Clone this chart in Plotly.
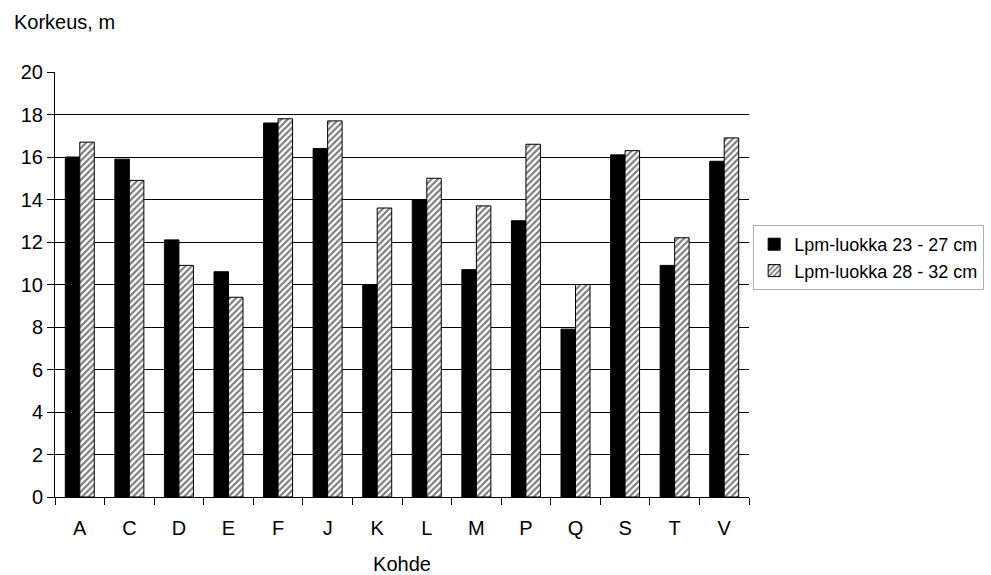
import plotly.graph_objects as go

# Tree height by site, two diameter classes
kohteet = ["A", "C", "D", "E", "F", "J", "K", "L", "M", "P", "Q", "S", "T", "V"]
luokka_23_27 = [16.0, 15.9, 12.1, 10.6, 17.6, 16.4, 10.0, 14.0, 10.7, 13.0, 7.9, 16.1, 10.9, 15.8]
luokka_28_32 = [16.7, 14.9, 10.9, 9.4, 17.8, 17.7, 13.6, 15.0, 13.7, 16.6, 10.0, 16.3, 12.2, 16.9]
sarjat = ["Lpm-luokka 23 - 27 cm", "Lpm-luokka 28 - 32 cm"]
y_ticks = list(range(0, 21, 2))

FONT = "Liberation Sans, Arial, sans-serif"

fig = go.Figure()
fig.add_trace(go.Bar(
    x=kohteet, y=luokka_23_27, name=sarjat[0],
    marker=dict(color="black", line=dict(color="black", width=1)),
))
fig.add_trace(go.Bar(
    x=kohteet, y=luokka_28_32, name=sarjat[1],
    marker=dict(
        color="white",
        line=dict(color="black", width=1),
        pattern=dict(shape="/", fgcolor="black", bgcolor="white", size=4.5, solidity=0.5),
    ),
))

fig.update_layout(
    width=991, height=575,
    margin=dict(l=55, r=242, t=72, b=78, autoexpand=False),
    paper_bgcolor="white", plot_bgcolor="white",
    font=dict(family=FONT, size=20, color="black"),
    barmode="group", bargap=0.415, bargroupgap=0,
    showlegend=True,
    legend=dict(
        x=1.006, y=0.64, xanchor="left", yanchor="top",
        bgcolor="white", bordercolor="#b0b0b0", borderwidth=1,
        font=dict(family=FONT, size=18, color="black"),
        tracegroupgap=0, itemwidth=30,
    ),
    annotations=[dict(
        text="Korkeus, m", xref="paper", yref="paper",
        x=-43 / 695, y=1.117, xanchor="left", yanchor="middle",
        showarrow=False, font=dict(family=FONT, size=20, color="black"),
    )],
)

fig.update_xaxes(
    title=dict(text="Kohde", standoff=22, font=dict(size=20)),
    automargin=False,
    showline=True, linecolor="black", linewidth=1,
    ticks="outside", tickson="boundaries", ticklen=7, tickcolor="black",
    ticklabelstandoff=13,
    showgrid=False,
    tickfont=dict(size=20),
)
fig.update_yaxes(
    range=[0, 20], tickvals=y_ticks,
    automargin=False,
    showline=True, linecolor="black", linewidth=1,
    ticks="outside", ticklen=7, tickcolor="black",
    showgrid=True, gridcolor="black", gridwidth=1,
    zeroline=False,
    tickfont=dict(size=20),
)

fig.write_html("out.html")
